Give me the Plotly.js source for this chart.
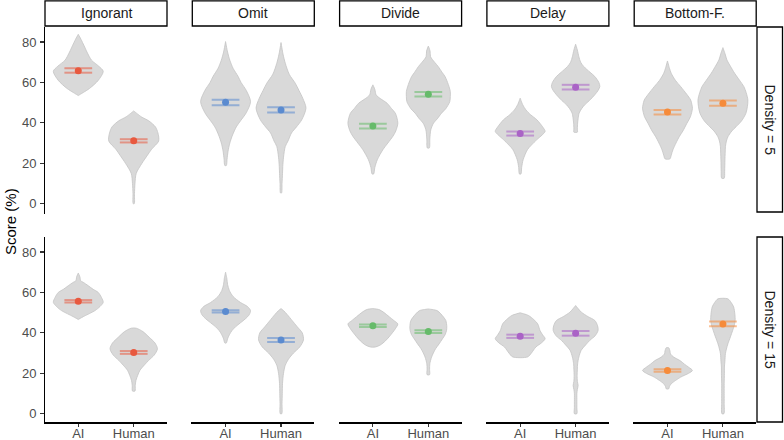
<!DOCTYPE html>
<html>
<head>
<meta charset="utf-8">
<script src="https://cdn.plot.ly/plotly-3.0.1.min.js"></script>
<style>
html,body{margin:0;padding:0;background:#fff;overflow:hidden;}
#wrap{position:relative;width:784px;height:440px;}
#chart{position:absolute;left:0;top:0;width:784px;height:440px;}
.axl{position:absolute;background:#000;pointer-events:none;z-index:10;}
</style>
</head>
<body>
<div id="wrap"><div id="chart"></div></div>
<script>
// ---------------- DATA ----------------
const strategies = ['Ignorant', 'Omit', 'Divide', 'Delay', 'Bottom-F.'];
const groups = ['AI', 'Human'];
const densities = ['Density = 5', 'Density = 15'];
const yTicks = [0, 20, 40, 60, 80];
const colors = ['#E8593F', '#5B8BD0', '#66BB6A', '#AA63C6', '#F68B3A'];

// means and interval bounds (per strategy)
const meanD5AI = [65.8, 50.2, 38.4, 34.7, 45.3];
const loD5AI = [64.8, 48.7, 37.2, 33.7, 44.1];
const hiD5AI = [67.0, 51.4, 39.5, 35.7, 46.4];
const meanD5Human = [31.1, 46.4, 54.2, 57.6, 49.7];
const loD5Human = [30.3, 45.1, 53.0, 56.5, 48.5];
const hiD5Human = [31.9, 47.7, 55.3, 58.8, 51.0];
const meanD15AI = [55.6, 50.6, 43.5, 38.3, 21.4];
const loD15AI = [55.0, 50.0, 42.9, 37.5, 20.8];
const hiD15AI = [56.2, 51.2, 44.1, 39.1, 22.0];
const meanD15Human = [30.3, 36.5, 40.6, 39.8, 44.4];
const loD15Human = [29.6, 35.5, 39.9, 38.6, 43.3];
const hiD15Human = [31.0, 37.5, 41.3, 40.9, 45.6];

// violin density profiles: score levels and relative half-widths
const violinYD5AI = [
  [53.5,55,57,61,65.5,68,71,75,79,82,83.8],
  [18.9,22,26,30,34,38,41,45,50.5,56,60,63,67,71,75,80.2],
  [14.7,18,21.8,26.7,30,33.3,36,39.9,44.8,47,49.7,52,53.8,56.5,58.8],
  [14.7,18,21.8,26.7,29,31.7,34,35.8,38,41.5,44,46.4,49,52.2],
  [22.2,24,26.7,30,33.3,36,39.8,43,47.2,49,51.3,54,57.9,61,64.5,67,70.6]
];
const violinWD5AI = [
  [0,0.2,0.45,0.8,1.0,0.82,0.53,0.35,0.2,0.08,0],
  [0.03,0.06,0.1,0.17,0.28,0.43,0.6,0.83,1.0,0.83,0.62,0.5,0.3,0.17,0.08,0],
  [0.03,0.08,0.18,0.4,0.6,0.8,0.92,1.0,0.9,0.75,0.57,0.3,0.13,0.08,0],
  [0.03,0.06,0.12,0.29,0.45,0.67,0.88,1.0,0.9,0.67,0.42,0.23,0.1,0],
  [0.1,0.15,0.22,0.34,0.48,0.62,0.78,0.92,1.0,0.98,0.93,0.78,0.53,0.32,0.15,0.08,0]
];
const violinYD5Human = [
  [0,5,10,15,20,24,27,31,35,38,41,43,45.9],
  [5.3,10,15,18.4,23,28.3,31,35,38,41.5,47.3,52.2,56,59.6,64,69.5,74,79.7],
  [27.6,32,36.6,39.9,42,44.8,47,50.5,53,55.5,59,62.9,65,67.8,70,72.7,75.5,78],
  [35.4,37,39.9,42,44.8,47,49,51,53.9,56,58,60,62.9,65,67.8,70,72.7,76,78.9],
  [12.6,16,21.6,25,28.2,31,33.1,36,38.1,41,44.7,48,51.3,55,57.9,61,64.5,68,71.1,74,77.2]
];
const violinWD5Human = [
  [0.02,0.03,0.05,0.1,0.33,0.55,0.72,1.0,0.97,0.87,0.6,0.3,0],
  [0.02,0.04,0.06,0.07,0.1,0.17,0.28,0.42,0.62,0.83,1.0,0.87,0.72,0.57,0.33,0.17,0.08,0],
  [0.04,0.06,0.1,0.21,0.36,0.53,0.7,0.86,0.88,0.88,0.8,0.67,0.55,0.4,0.25,0.09,0.07,0],
  [0.07,0.07,0.08,0.1,0.14,0.24,0.37,0.55,0.77,0.9,0.97,0.93,0.77,0.58,0.33,0.2,0.13,0.07,0],
  [0.05,0.07,0.08,0.09,0.1,0.14,0.2,0.36,0.53,0.75,0.92,0.98,1.0,0.93,0.84,0.67,0.47,0.3,0.16,0.09,0]
];
const violinYD15AI = [
  [46.6,48,51,53,55.1,57.5,60,61.5,63.3,65,65.8,67.5,69.6],
  [35,37,39,41,43,45,47,49,51,53,55,58,61,64,67,70],
  [33,34,36,38,40,42,44.4,46,48,50,51.5,52],
  [28.1,30,33,35,37.1,39,41,44.5,46.5,48.6,49.9],
  [12.3,13.5,14.8,16.5,18.1,20,21.4,23,24.5,26.3,28,29.6,31,32.6]
];
const violinWD15AI = [
  [0,0.2,0.67,0.87,1.0,0.93,0.8,0.6,0.4,0.2,0.09,0.07,0],
  [0.03,0.08,0.15,0.25,0.4,0.6,0.8,0.95,1.0,0.88,0.6,0.3,0.15,0.08,0.05,0],
  [0.1,0.3,0.5,0.65,0.78,0.9,1.0,0.85,0.65,0.45,0.25,0],
  [0.3,0.45,0.63,0.85,1.0,0.9,0.8,0.7,0.55,0.33,0],
  [0.05,0.08,0.15,0.33,0.53,0.85,1.0,0.85,0.68,0.5,0.25,0.12,0.1,0.05]
];
const violinYD15Human = [
  [11.2,14,16.5,19,21.5,24,26.4,29,32.1,35,37.8,40.6,42.3],
  [0,5,10,15,20,24,27,30,33,36.5,40,43,46,49,51,52],
  [19.3,22,24.7,28,30,32.1,34.5,37.1,39,41.2,43,46.1,49.4,51,51.8],
  [0,3,6,10,12,14,16,19,22,24.7,28,31.3,34,36.3,38.5,41.2,43.5,46.1,48,50.2,52,53.5],
  [0,5,10,15,20,23.1,26,29.7,32,34.6,38,41.2,44,46.1,49,52.8,55,56.8]
];
const violinWD15Human = [
  [0.05,0.06,0.09,0.16,0.25,0.42,0.6,0.82,0.95,0.85,0.62,0.37,0.1],
  [0.03,0.04,0.05,0.06,0.1,0.17,0.3,0.5,0.75,0.9,0.85,0.65,0.45,0.25,0.1,0],
  [0.05,0.05,0.06,0.13,0.2,0.29,0.43,0.57,0.67,0.73,0.74,0.7,0.5,0.35,0],
  [0.05,0.05,0.05,0.05,0.07,0.1,0.07,0.06,0.07,0.08,0.13,0.22,0.4,0.57,0.78,0.9,0.88,0.77,0.5,0.23,0.1,0],
  [0.04,0.05,0.05,0.05,0.06,0.06,0.08,0.1,0.14,0.2,0.3,0.39,0.46,0.49,0.48,0.43,0.33,0.2]
];

// ---------------- LAYOUT GEOMETRY (pixels) ----------------
const W = 784, H = 440;
const colStart = [45, 192.3, 339.6, 486.9, 634.2];
const panelW = 122;
const rowTop = [27, 237];
const rowBot = [212, 422];
const halfMax = 0.45;
const ciHalf = 0.25;
const FONT = 'Liberation Sans, Arial, sans-serif';

const rows = [
  {means: [meanD5AI, meanD5Human], lo: [loD5AI, loD5Human], hi: [hiD5AI, hiD5Human],
   vy: [violinYD5AI, violinYD5Human], vw: [violinWD5AI, violinWD5Human]},
  {means: [meanD15AI, meanD15Human], lo: [loD15AI, loD15Human], hi: [hiD15AI, hiD15Human],
   vy: [violinYD15AI, violinYD15Human], vw: [violinWD15AI, violinWD15Human]}
];

function hexA(hex, a) {
  const n = parseInt(hex.slice(1), 16);
  return 'rgba(' + ((n >> 16) & 255) + ',' + ((n >> 8) & 255) + ',' + (n & 255) + ',' + a + ')';
}

const traces = [];
const layout = {
  width: W, height: H,
  margin: {l: 0, r: 0, t: 0, b: 0},
  paper_bgcolor: '#fff', plot_bgcolor: 'rgba(0,0,0,0)',
  showlegend: false,
  font: {family: FONT, color: '#000'},
  shapes: [], annotations: []
};

for (let r = 0; r < 2; r++) {
  for (let c = 0; c < 5; c++) {
    const k = r * 5 + c + 1;
    const xa = 'x' + k, ya = 'y' + k;
    const xKey = k === 1 ? 'xaxis' : 'xaxis' + k;
    const yKey = k === 1 ? 'yaxis' : 'yaxis' + k;
    layout[xKey] = {
      domain: [colStart[c] / W, (colStart[c] + panelW) / W],
      range: [-0.6, 1.6], anchor: ya, fixedrange: true,
      showgrid: false, zeroline: false, showline: false,
      ticks: r === 1 ? 'outside' : '', ticklen: 4, tickwidth: 1.1, tickcolor: '#333',
      ticklabelstandoff: -5,
      tickmode: 'array', tickvals: [0, 1], ticktext: groups,
      showticklabels: r === 1,
      tickfont: {size: 13, color: '#4D4D4D', family: FONT}
    };
    layout[yKey] = {
      domain: [1 - rowBot[r] / H, 1 - rowTop[r] / H],
      range: [-4.1, 87.4], anchor: xa, fixedrange: true,
      showgrid: false, zeroline: false, showline: false,
      ticks: c === 0 ? 'outside' : '', ticklen: 4, tickwidth: 1.1, tickcolor: '#333',
      ticklabelstandoff: 1,
      tickmode: 'array', tickvals: yTicks, ticktext: yTicks.map(String),
      showticklabels: c === 0,
      tickfont: {size: 13, color: '#4D4D4D', family: FONT}
    };

    const R = rows[r];
    for (let g = 0; g < 2; g++) {
      const Y = R.vy[g][c], Wd = R.vw[g][c];
      const xs = [], ys = [];
      for (let i = 0; i < Y.length; i++) { xs.push(g + Wd[i] * halfMax); ys.push(Y[i]); }
      for (let i = Y.length - 1; i >= 0; i--) { xs.push(g - Wd[i] * halfMax); ys.push(Y[i]); }
      xs.push(xs[0]); ys.push(ys[0]);
      traces.push({
        type: 'scatter', mode: 'lines', x: xs, y: ys, xaxis: xa, yaxis: ya,
        fill: 'toself', fillcolor: '#D9D9D9',
        line: {color: '#C4C4C4', width: 0.8, shape: 'spline', smoothing: 0.8},
        hoverinfo: 'skip', cliponaxis: false
      });
    }
    for (let g = 0; g < 2; g++) {
      const lo = R.lo[g][c], hi = R.hi[g][c];
      traces.push({
        type: 'scatter', mode: 'lines', xaxis: xa, yaxis: ya,
        x: [g - ciHalf, g + ciHalf, null, g - ciHalf, g + ciHalf],
        y: [lo, lo, null, hi, hi],
        line: {color: hexA(colors[c], 0.55), width: 2},
        hoverinfo: 'skip'
      });
    }
    traces.push({
      type: 'scatter', mode: 'markers', xaxis: xa, yaxis: ya,
      x: [0, 1], y: [R.means[0][c], R.means[1][c]],
      marker: {color: colors[c], size: 7, line: {width: 0}},
      hoverinfo: 'skip'
    });
  }
}

for (let c = 0; c < 5; c++) {
  const x0 = colStart[c] / W, x1 = (colStart[c] + panelW) / W;
  layout.shapes.push({type: 'rect', xref: 'paper', yref: 'paper',
    x0: x0, x1: x1, y0: 1 - 26 / H, y1: 1 - 0.8 / H,
    line: {color: '#000', width: 1.3}, fillcolor: '#fff', layer: 'below'});
  layout.annotations.push({xref: 'paper', yref: 'paper', x: (x0 + x1) / 2, y: 1 - 13.5 / H,
    text: strategies[c], showarrow: false, xanchor: 'center', yanchor: 'middle',
    font: {size: 14, color: '#1A1A1A', family: FONT}});
}
for (let r = 0; r < 2; r++) {
  layout.shapes.push({type: 'rect', xref: 'paper', yref: 'paper',
    x0: 757 / W, x1: 782.5 / W, y0: 1 - rowBot[r] / H, y1: 1 - rowTop[r] / H,
    line: {color: '#000', width: 1.3}, fillcolor: '#fff', layer: 'below'});
  layout.annotations.push({xref: 'paper', yref: 'paper', x: 770 / W,
    y: 1 - (rowTop[r] + rowBot[r]) / 2 / H,
    text: densities[r], showarrow: false, textangle: 90, xanchor: 'center', yanchor: 'middle',
    font: {size: 14, color: '#1A1A1A', family: FONT}});
}
layout.annotations.push({xref: 'paper', yref: 'paper', x: 10 / W, y: 1 - 222 / H,
  text: 'Score (%)', showarrow: false, textangle: -90, xanchor: 'center', yanchor: 'middle',
  font: {size: 15, color: '#000', family: FONT}});

Plotly.newPlot('chart', traces, layout, {staticPlot: true, displayModeBar: false}).then(function () {
  const wrap = document.getElementById('wrap');
  function addLine(l, t, w, h) {
    const d = document.createElement('div');
    d.className = 'axl';
    d.style.left = l + 'px'; d.style.top = t + 'px';
    d.style.width = w + 'px'; d.style.height = h + 'px';
    wrap.appendChild(d);
  }
  for (let r = 0; r < 2; r++) addLine(43.5, rowTop[r], 1.6, rowBot[r] - rowTop[r] + 1.5);
  for (let c = 0; c < 5; c++) addLine(colStart[c] - 1, rowBot[1], panelW + 1, 1.5);
});
</script>
</body>
</html>
